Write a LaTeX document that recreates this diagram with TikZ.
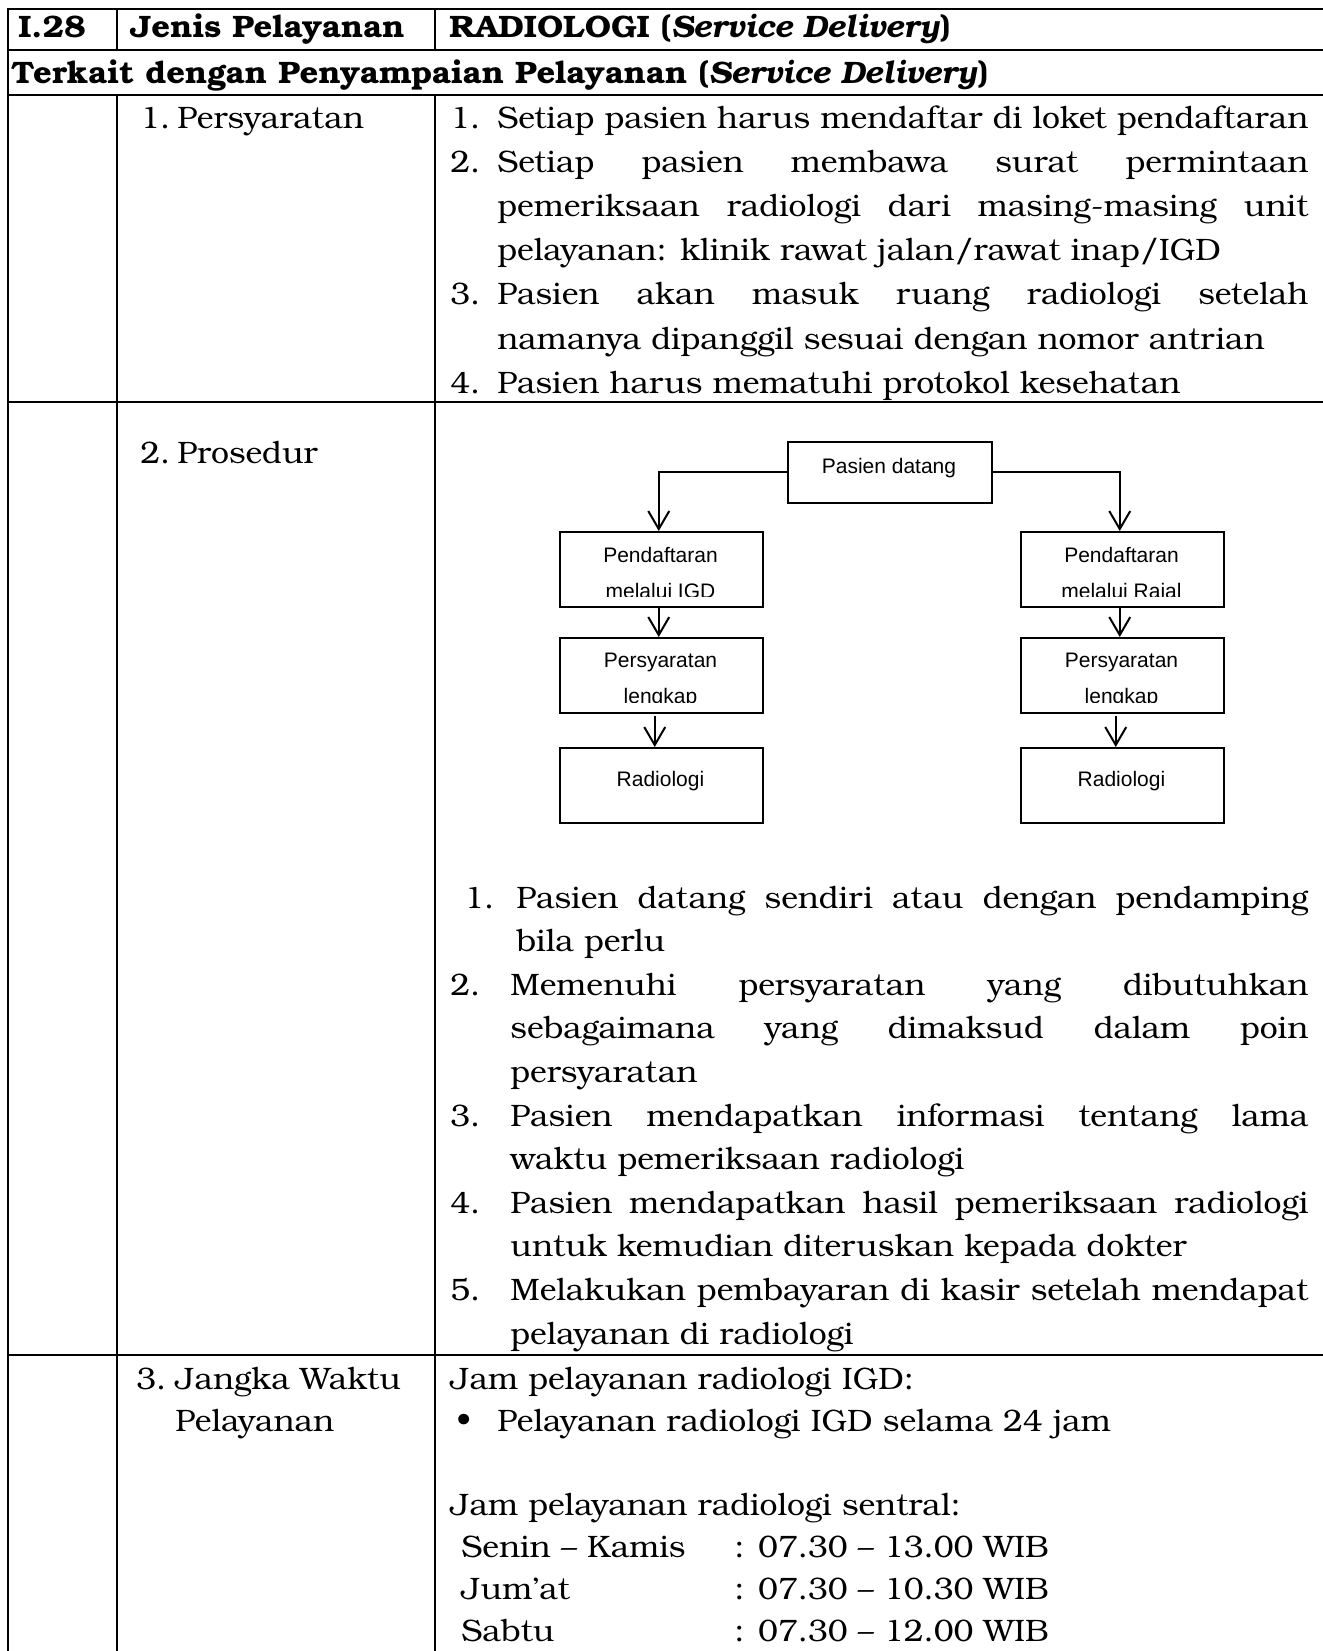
\documentclass[tikz,border=0pt]{standalone}
\usepackage{fontspec}
\setmainfont{TeX Gyre Bonum}[FakeStretch=1.03,BoldFeatures={FakeStretch=1.055},BoldItalicFeatures={FakeStretch=1.02}]
\newfontfamily\arialf{Liberation Sans}
\usetikzlibrary{arrows.meta}
\newcommand\msz{\fontsize{15.5}{22}\selectfont}
\newcommand\fsz{\arialf\fontsize{10.5}{18}\selectfont}
\newcommand\jfy[2]{\makebox[#1][s]{#2}}
\begin{document}
\begin{tikzpicture}[x=0.5pt,y=-0.5pt,
  tl/.style={line width=1.3pt},
  txt/.style={anchor=base west,inner sep=0pt,font=\msz},
  btxt/.style={anchor=base west,inner sep=0pt,font=\msz\bfseries},
  fbox/.style={draw,line width=0.75pt,anchor=north west,inner sep=0pt,minimum width=101.5pt,minimum height=37.5pt},
  ftxt/.style={anchor=base,inner sep=0pt,font=\fsz,align=center},
  arr/.style={line width=1pt,-{Straight Barb[length=9pt,width=10.5pt]}}]
\useasboundingbox (0,0) rectangle (1323,1651);
\fill[white] (0,0) rectangle (1323,1651);
% table rules
\draw[tl] (7,9) -- (1323,9);
\draw[tl] (7,50) -- (1323,50);
\draw[tl] (7,95) -- (1323,95);
\draw[tl] (7,402) -- (1323,402);
\draw[tl] (7,1355) -- (1323,1355);
\draw[tl] (8,8) -- (8,1651);
\draw[tl] (117,9) -- (117,50);
\draw[tl] (117,95) -- (117,1651);
\draw[tl] (435,9) -- (435,50);
\draw[tl] (435,95) -- (435,1651);
% header
\node[btxt] (hA) at (18,37) {I.28};
\node[btxt] (hB) at (130,37) {Jenis Pelayanan};
\node[btxt] (hC) at (449,37) {RADIOLOGI (\textit{Service Delivery})};
\node[btxt] (hD) at (11,83) {Terkait dengan Penyampaian Pelayanan (\textit{Service Delivery})};
% persyaratan
\node[txt] (s0n) at (140,128) {1.};
\node[txt] (s0) at (177,128) {Persyaratan};
\node[txt] (a1n) at (450,128) {1.};
\node[txt] (a1) at (497,128) {\jfy{405.5pt}{Setiap pasien harus mendaftar di loket pendaftaran}};
\node[txt] (a2n) at (450,172.2) {2.};
\node[txt] (a2) at (497,172.2) {\jfy{405.5pt}{Setiap pasien membawa surat permintaan}};
\node[txt] (a3) at (497,216.4) {\jfy{405.5pt}{pemeriksaan radiologi dari masing-masing unit}};
\node[txt] (a4) at (497,260.6) {pelayanan: klinik rawat jalan/rawat inap/IGD};
\node[txt] (a5n) at (450,304.8) {3.};
\node[txt] (a5) at (497,304.8) {\jfy{405.5pt}{Pasien akan masuk ruang radiologi setelah}};
\node[txt] (a6) at (497,349) {namanya dipanggil sesuai dengan nomor antrian};
\node[txt] (a7n) at (450,393.2) {4.};
\node[txt] (a7) at (497,393.2) {Pasien harus mematuhi protokol kesehatan};
% prosedur
\node[txt] (s5n) at (140,463) {2.};
\node[txt] (s5) at (177,463) {Prosedur};
% flowchart
\node[fbox,minimum width=102pt,minimum height=30.5pt] (P) at (787,441) {};
\node[ftxt] (Pt) at (889,473) {Pasien datang};
\node[fbox] (L1) at (559,531) {};
\node[fbox] (L2) at (559,637) {};
\node[fbox] (L3) at (559,747) {};
\node[fbox] (R1) at (1020,531) {};
\node[fbox] (R2) at (1020,637) {};
\node[fbox] (R3) at (1020,747) {};
\begin{scope}
\clip (559,531) rectangle (762,596);
\node[ftxt] (L1t) at (660.5,598) {Pendaftaran\\melalui IGD};
\end{scope}
\begin{scope}
\clip (1020,531) rectangle (1223,596);
\node[ftxt] (R1t) at (1121.5,598) {Pendaftaran\\melalui Rajal};
\end{scope}
\begin{scope}
\clip (559,637) rectangle (762,702);
\node[ftxt] (L2t) at (660.5,703) {Persyaratan\\lengkap};
\end{scope}
\begin{scope}
\clip (1020,637) rectangle (1223,702);
\node[ftxt] (R2t) at (1121.5,703) {Persyaratan\\lengkap};
\end{scope}
\node[ftxt] (L3t) at (660.5,786) {Radiologi};
\node[ftxt] (R3t) at (1121.5,786) {Radiologi};
\draw[arr] (P.west) -| ([xshift=-1.25pt]L1.north);
\draw[arr] (P.east) -| ([xshift=-1.25pt]R1.north);
\draw[arr] ([xshift=-1.25pt]L1.south) -- ([xshift=-1.25pt]L2.north);
\draw[arr] ([xshift=-1.25pt]R1.south) -- ([xshift=-1.25pt]R2.north);
\draw[arr] ([xshift=-3.25pt,yshift=-1pt]L2.south) -- ([xshift=-3.25pt]L3.north);
\draw[arr] ([xshift=-3.25pt,yshift=-1pt]R2.south) -- ([xshift=-3.25pt]R3.north);
% prosedur list
\node[txt] (b1n) at (464,908) {1.};
\node[txt] (b1) at (516,908) {\jfy{396pt}{Pasien datang sendiri atau dengan pendamping}};
\node[txt] (b2) at (516,951.6) {bila perlu};
\node[txt] (b3n) at (450,995.2) {2.};
\node[txt] (b3) at (510,995.2) {\jfy{399pt}{Memenuhi persyaratan yang dibutuhkan}};
\node[txt] (b4) at (510,1038.8) {\jfy{399pt}{sebagaimana yang dimaksud dalam poin}};
\node[txt] (b5) at (510,1082.4) {persyaratan};
\node[txt] (b6n) at (450,1126) {3.};
\node[txt] (b6) at (510,1126) {\jfy{399pt}{Pasien mendapatkan informasi tentang lama}};
\node[txt] (b7) at (510,1169.6) {waktu pemeriksaan radiologi};
\node[txt] (b8n) at (450,1213.2) {4.};
\node[txt] (b8) at (510,1213.2) {\jfy{399pt}{Pasien mendapatkan hasil pemeriksaan radiologi}};
\node[txt] (b9) at (510,1256.8) {untuk kemudian diteruskan kepada dokter};
\node[txt] (b10n) at (450,1300.4) {5.};
\node[txt] (b10) at (510,1300.4) {\jfy{399pt}{Melakukan pembayaran di kasir setelah mendapat}};
\node[txt] (b11) at (510,1344) {pelayanan di radiologi};
% jangka waktu
\node[txt] (s9n) at (136,1389) {3.};
\node[txt] (s9) at (175,1389) {Jangka Waktu};
\node[txt] (s9b) at (175,1431) {Pelayanan};
\node[txt] (w1) at (450,1389) {Jam pelayanan radiologi IGD:};
\node[txt] (w2) at (456,1431) {\textbullet};
\node[txt] (w3) at (497,1431) {Pelayanan radiologi IGD selama 24 jam};
\node[txt] (w4) at (450,1515) {Jam pelayanan radiologi sentral:};
\node[txt] (w5) at (461,1557) {Senin – Kamis};
\node[txt] (w6) at (734,1557) {: 07.30 – 13.00 WIB};
\node[txt] (w7) at (461,1599) {Jum’at};
\node[txt] (w8) at (734,1599) {: 07.30 – 10.30 WIB};
\node[txt] (w9) at (461,1641) {Sabtu};
\node[txt] (w10) at (734,1641) {: 07.30 – 12.00 WIB};
\end{tikzpicture}
\end{document}
